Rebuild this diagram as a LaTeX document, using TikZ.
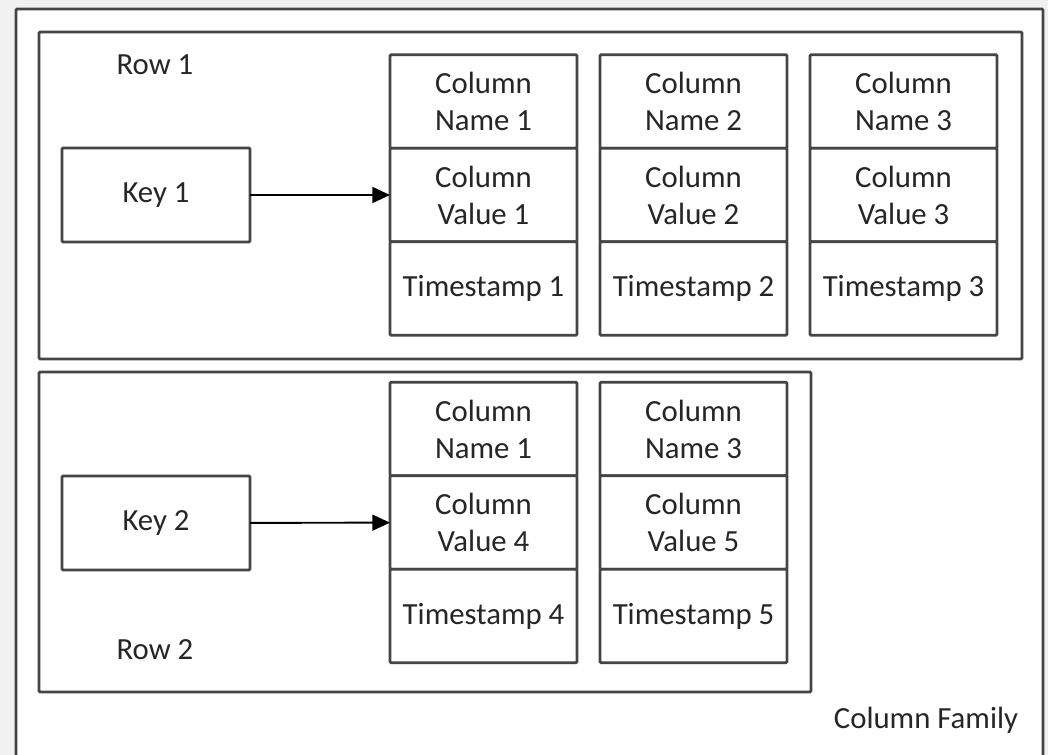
\documentclass[tikz,border=0pt]{standalone}
\usepackage{fontspec}
\setmainfont{Carlito}
\usetikzlibrary{arrows.meta,positioning}
\definecolor{lineGray}{HTML}{454545}
\definecolor{textDark}{HTML}{262626}
\definecolor{pageGray}{HTML}{F1F1F1}

\begin{document}
\begin{tikzpicture}[
      font=\fontsize{17.5pt}{21pt}\selectfont,
      text=textDark,
      boxline/.style={draw=lineGray, line width=1.6pt, rounded corners=0.6pt},
      cell/.style={
        boxline, fill=white, align=center, outer sep=0pt,
        minimum width=3.74cm, minimum height=1.87cm, inner sep=0pt
      },
      keybox/.style={cell, minimum width=3.76cm, minimum height=1.88cm},
      rowbox/.style={boxline, fill=white, inner sep=0pt, outer sep=0pt},
      label/.style={inner sep=0pt, anchor=base},
      linkarr/.style={-{Triangle[length=10pt,width=9pt]}, draw=black, line width=1.1pt}
    ]
      % page and column family frame
      \fill[pageGray] (0,0) rectangle (20.96,-15.10);
      \useasboundingbox (0,0) rectangle (20.96,-15.10);
      \node[rowbox, minimum width=20.54cm, minimum height=15.4cm, anchor=north west] (family) at (0.32,-0.18) {};

      % rows
      \node[rowbox, minimum width=19.66cm, minimum height=6.54cm, anchor=north west] (row1) at (0.78,-0.64) {};
      \node[rowbox, minimum width=15.44cm, minimum height=6.40cm, anchor=north west] (row2) at (0.78,-7.44) {};

      % row 1
      \node[keybox] (key1) at (3.12,-3.9) {Key 1};
      \node[cell] (n11) at (9.67,-2.03) {Column\\Name 1};
      \node[cell, below=0pt of n11] (v11) {Column\\Value 1};
      \node[cell, below=0pt of v11] (t11) {Timestamp 1};
      \node[cell, right=0.46cm of n11] (n12) {Column\\Name 2};
      \node[cell, below=0pt of n12] (v12) {Column\\Value 2};
      \node[cell, below=0pt of v12] (t12) {Timestamp 2};
      \node[cell, right=0.46cm of n12] (n13) {Column\\Name 3};
      \node[cell, below=0pt of n13] (v13) {Column\\Value 3};
      \node[cell, below=0pt of v13] (t13) {Timestamp 3};

      % row 2
      \node[keybox] (key2) at (3.12,-10.46) {Key 2};
      \node[cell] (n21) at (9.67,-8.58) {Column\\Name 1};
      \node[cell, below=0pt of n21] (v21) {Column\\Value 4};
      \node[cell, below=0pt of v21] (t21) {Timestamp 4};
      \node[cell, right=0.46cm of n21] (n22) {Column\\Name 3};
      \node[cell, below=0pt of n22] (v22) {Column\\Value 5};
      \node[cell, below=0pt of v22] (t22) {Timestamp 5};

      \draw[linkarr] (key1) -- (v11);
      \draw[linkarr] (key2) -- (v21);

      % labels
      \node[label] (row1lbl) at (3.1,-1.5) {Row 1};
      \node[label] (row2lbl) at (3.1,-13.18) {Row 2};
      \node[label] (familylbl) at (18.52,-14.56) {Column Family};
    \end{tikzpicture}
\end{document}
